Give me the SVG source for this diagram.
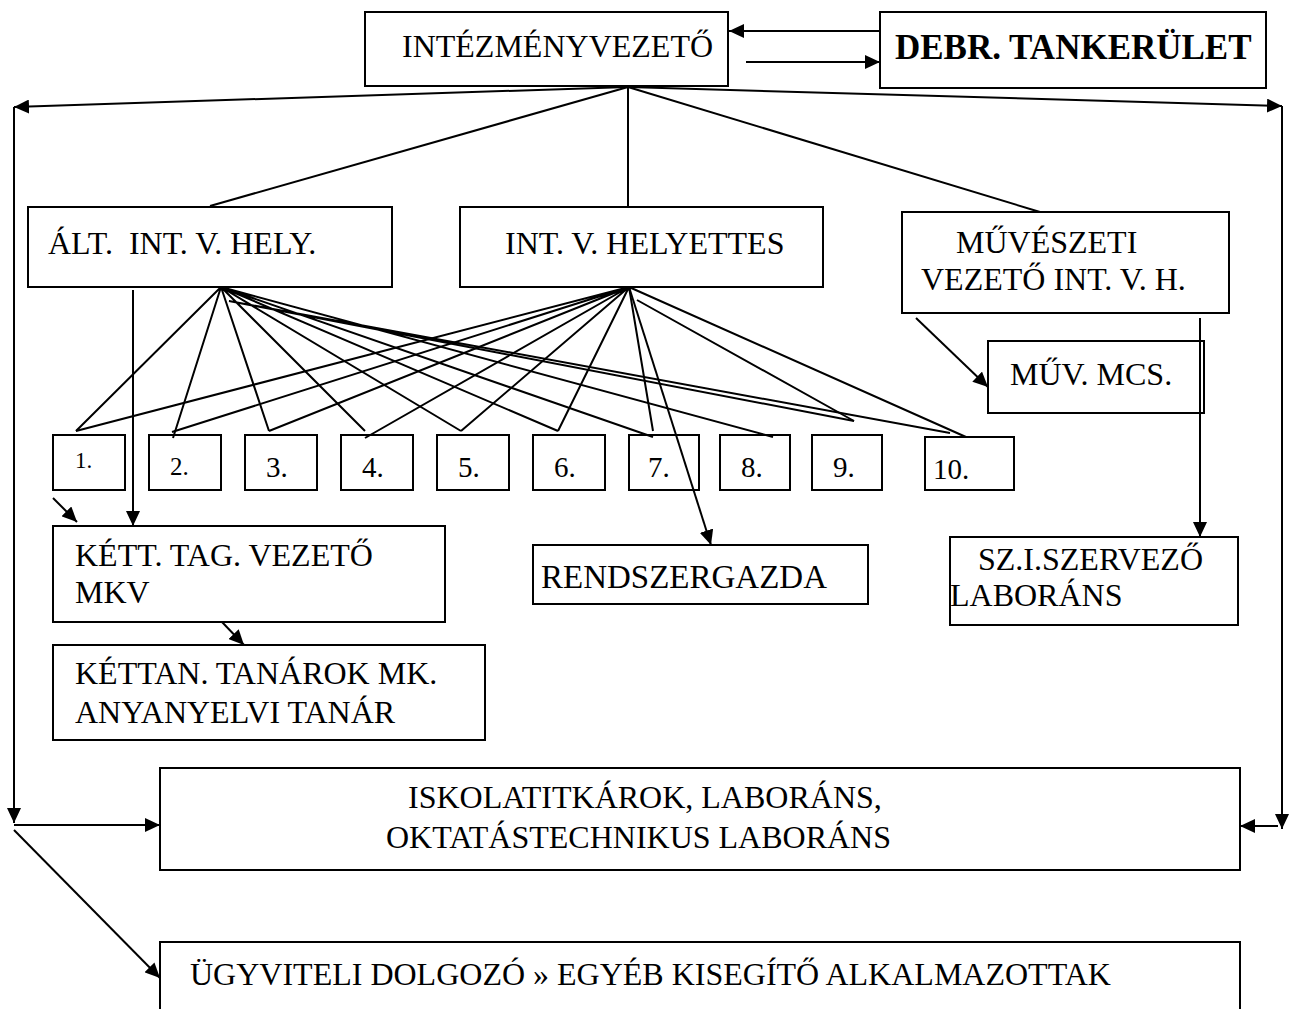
<svg xmlns="http://www.w3.org/2000/svg" width="1291" height="1009" viewBox="0 0 1291 1009">
<defs>
<marker id="ah" markerUnits="userSpaceOnUse" markerWidth="16" markerHeight="14" refX="15" refY="7" orient="auto">
<path d="M0,0 L15,7 L0,14 z" fill="#000"/>
</marker>
<style>
.box{fill:#fff;stroke:#000;stroke-width:2}
.t{font-family:'Liberation Serif','Times New Roman','DejaVu Serif',serif;font-size:32px;fill:#000}
.b{font-weight:bold;font-size:35px}
.n{font-size:29px}
.c line,.c path{stroke:#000;stroke-width:2;fill:none}
.a{marker-end:url(#ah)}
</style>
</defs>
<rect width="1291" height="1009" fill="#fff"/>
<g id="n-intezmenyvezeto"><rect class="box" x="365" y="12" width="363" height="74"/><text class="t" x="402" y="57">INTÉZMÉNYVEZETŐ</text></g>
<g id="n-debr"><rect class="box" x="880" y="12" width="386" height="76"/><text class="t b" x="895" y="59">DEBR. TANKERÜLET</text></g>
<g id="n-alt"><rect class="box" x="28" y="207" width="364" height="80"/><text class="t" x="48" y="254" xml:space="preserve">ÁLT.  INT. V. HELY.</text></g>
<g id="n-intvh"><rect class="box" x="460" y="207" width="363" height="80"/><text class="t" x="505" y="254">INT. V. HELYETTES</text></g>
<g id="n-muv"><rect class="box" x="902" y="212" width="327" height="101"/><text class="t" x="956" y="253">MŰVÉSZETI</text><text class="t" x="921" y="290">VEZETŐ INT. V. H.</text></g>
<g id="n-mcs"><rect class="box" x="988" y="341" width="216" height="72"/><text class="t" x="1010" y="385">MŰV. MCS.</text></g>
<g id="n1"><rect class="box" x="53" y="435" width="72" height="55"/><text class="t" x="75" y="468" style="font-size:23px">1.</text></g>
<g id="n2"><rect class="box" x="149" y="435" width="72" height="55"/><text class="t" x="170" y="475" style="font-size:25px">2.</text></g>
<g id="n3"><rect class="box" x="245" y="435" width="72" height="55"/><text class="t n" x="266" y="477">3.</text></g>
<g id="n4"><rect class="box" x="341" y="435" width="72" height="55"/><text class="t n" x="362" y="477">4.</text></g>
<g id="n5"><rect class="box" x="437" y="435" width="72" height="55"/><text class="t n" x="458" y="477">5.</text></g>
<g id="n6"><rect class="box" x="533" y="435" width="72" height="55"/><text class="t n" x="554" y="477">6.</text></g>
<g id="n7"><rect class="box" x="629" y="435" width="70" height="55"/><text class="t n" x="648" y="477">7.</text></g>
<g id="n8"><rect class="box" x="720" y="435" width="70" height="55"/><text class="t n" x="741" y="477">8.</text></g>
<g id="n9"><rect class="box" x="812" y="435" width="70" height="55"/><text class="t n" x="833" y="477">9.</text></g>
<g id="n10"><rect class="box" x="925" y="437" width="89" height="53"/><text class="t n" x="933" y="479">10.</text></g>
<g id="n-kett"><rect class="box" x="53" y="526" width="392" height="96"/><text class="t" x="75" y="566">KÉTT. TAG. VEZETŐ</text><text class="t" x="75" y="603">MKV</text></g>
<g id="n-kettan"><rect class="box" x="53" y="645" width="432" height="95"/><text class="t" x="75" y="684">KÉTTAN. TANÁROK MK.</text><text class="t" x="75" y="723">ANYANYELVI TANÁR</text></g>
<g id="n-rendsz"><rect class="box" x="533" y="545" width="335" height="59"/><text class="t" x="541" y="588" style="font-size:33px">RENDSZERGAZDA</text></g>
<g id="n-sz"><rect class="box" x="950" y="537" width="288" height="88"/><text class="t" x="978" y="570">SZ.I.SZERVEZŐ</text><text class="t" x="950" y="606">LABORÁNS</text></g>
<g id="n-iskola"><rect class="box" x="160" y="768" width="1080" height="102"/><text class="t" x="408" y="808">ISKOLATITKÁROK, LABORÁNS,</text><text class="t" x="386" y="848">OKTATÁSTECHNIKUS LABORÁNS</text></g>
<g id="n-ugyv"><rect class="box" x="160" y="942" width="1080" height="90"/><text class="t" x="190" y="985">ÜGYVITELI DOLGOZÓ » EGYÉB KISEGÍTŐ ALKALMAZOTTAK</text></g>
<g id="connectors" class="c">
<line class="a" x1="880" y1="31" x2="729" y2="31"/>
<line class="a" x1="746" y1="62" x2="880" y2="62"/>
<line class="a" x1="628" y1="87" x2="14" y2="107"/>
<line class="a" x1="628" y1="87" x2="1282" y2="106"/>
<line class="a" x1="14" y1="107" x2="14" y2="823"/>
<line class="a" x1="1282" y1="106" x2="1282" y2="829"/>
<line class="a" x1="14" y1="825" x2="160" y2="825"/>
<line class="a" x1="1278" y1="826" x2="1240" y2="826"/>
<line class="a" x1="14" y1="830" x2="160" y2="978"/>
<line x1="628" y1="87" x2="210" y2="206"/>
<line x1="628" y1="88" x2="628" y2="207"/>
<line x1="628" y1="87" x2="1040" y2="212"/>
<path d="M221,287 L76,431 M221,287 L173,438 M221,287 L269,431 M221,287 L365,431 M221,287 L461,431 M221,287 L558,431 M221,287 L653,437 M221,287 L773,437 M229,301 L854,421 M229,301 L950,433"/>
<path d="M629,287 L76,431 M629,287 L172,432 M629,287 L269,431 M629,287 L365,438 M629,287 L461,431 M629,287 L558,431 M629,287 L653,431 M629,287 L966,437 M637,300 L854,421"/>
<line class="a" x1="629" y1="287" x2="711" y2="545"/>
<line class="a" x1="133" y1="290" x2="133" y2="526"/>
<line class="a" x1="53" y1="498" x2="77" y2="522"/>
<line class="a" x1="222" y1="622" x2="244" y2="645"/>
<line class="a" x1="916" y1="318" x2="988" y2="387"/>
<line class="a" x1="1200" y1="318" x2="1200" y2="537"/>
</g>
</svg>
